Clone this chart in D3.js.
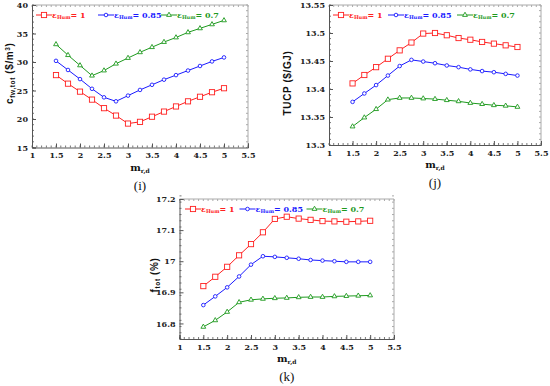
<!DOCTYPE html>
<html>
<head>
<meta charset="utf-8">
<script src="https://cdn.jsdelivr.net/npm/d3@7"></script>
<style>
  body { margin: 0; background: #fff; }
  svg { display: block; }
</style>
</head>
<body>
<svg id="chart" width="550" height="386"></svg>
<script>
// shared x values (m_r,d)
const mrd = [1.5, 1.75, 2, 2.25, 2.5, 2.75, 3, 3.25, 3.5, 3.75, 4, 4.25, 4.5, 4.75, 5];
const xTicks = [1, 1.5, 2, 2.5, 3, 3.5, 4, 4.5, 5, 5.5];
const seriesNames = ['1', '0.85', '0.7'];
const seriesColors = ['#ff2020', '#1a1aff', '#1e9a1e'];

// (i) c_fw,tot
const cfwHum1 = [27.7, 26.2, 24.8, 23.4, 21.9, 20.6, 19.2, 19.5, 20.4, 21.3, 22.2, 23.1, 23.9, 24.7, 25.4];
const cfwHum085 = [30.2, 28.6, 27.0, 25.3, 23.8, 23.1, 24.1, 25.1, 26.0, 26.9, 27.7, 28.5, 29.3, 30.1, 30.8];
const cfwHum07 = [33.1, 31.2, 29.4, 27.6, 28.5, 29.7, 30.7, 31.7, 32.6, 33.5, 34.3, 35.2, 35.9, 36.6, 37.3];
const cfwTicks = [15, 20, 25, 30, 35, 40];

// (j) TUCP
const tucpHum1 = [13.410, 13.425, 13.439, 13.454, 13.469, 13.483, 13.499, 13.500, 13.496, 13.491, 13.488, 13.484, 13.481, 13.478, 13.475];
const tucpHum085 = [13.377, 13.392, 13.407, 13.424, 13.441, 13.452, 13.449, 13.446, 13.442, 13.439, 13.435, 13.432, 13.430, 13.427, 13.424];
const tucpHum07 = [13.333, 13.349, 13.364, 13.381, 13.384, 13.384, 13.383, 13.382, 13.380, 13.378, 13.375, 13.373, 13.371, 13.370, 13.368];
const tucpTicks = [13.3, 13.35, 13.4, 13.45, 13.5, 13.55];

// (k) f_tot
const ftotHum1 = [16.920, 16.950, 16.982, 17.019, 17.055, 17.093, 17.136, 17.143, 17.137, 17.133, 17.129, 17.128, 17.127, 17.128, 17.130];
const ftotHum085 = [16.859, 16.887, 16.916, 16.951, 16.989, 17.016, 17.014, 17.011, 17.008, 17.004, 17.002, 17.000, 16.998, 16.998, 16.998];
const ftotHum07 = [16.789, 16.810, 16.837, 16.868, 16.876, 16.879, 16.881, 16.882, 16.884, 16.885, 16.885, 16.887, 16.888, 16.889, 16.890];
const ftotTicks = [16.8, 16.9, 17, 17.1, 17.2];

const svg = d3.select('#chart');
const serif = '"DejaVu Serif", serif';

function drawPanel(cfg) {
  const g = svg.append('g');
  const x = d3.scaleLinear().domain([1, 5.5]).range([cfg.left, cfg.right]);
  const y = d3.scaleLinear().domain(cfg.yDomain).range([cfg.bottom, cfg.top]);

  // frame: top/right lighter
  g.append('line').attr('x1', cfg.left).attr('x2', cfg.right).attr('y1', cfg.top).attr('y2', cfg.top)
    .attr('stroke', '#aaa').attr('stroke-width', 1);
  g.append('line').attr('x1', cfg.right).attr('x2', cfg.right).attr('y1', cfg.top).attr('y2', cfg.bottom)
    .attr('stroke', '#aaa').attr('stroke-width', 1);

  // minor ticks on all sides
  const xMinor = d3.range(1, 5.5001, 0.1);
  const yStep = (cfg.yTicks[1] - cfg.yTicks[0]) / 5;
  const yMinor = d3.range(cfg.yDomain[0], cfg.yDomain[1] + yStep / 2, yStep);
  g.selectAll('.xminor').data(xMinor).join('line')
    .attr('x1', d => x(d)).attr('x2', d => x(d))
    .attr('y1', cfg.bottom).attr('y2', cfg.bottom - 2).attr('stroke', '#777');
  g.selectAll('.xminort').data(xMinor).join('line')
    .attr('x1', d => x(d)).attr('x2', d => x(d))
    .attr('y1', cfg.top).attr('y2', cfg.top + 2).attr('stroke', '#aaa');
  g.selectAll('.yminor').data(yMinor).join('line')
    .attr('x1', cfg.left).attr('x2', cfg.left + 2)
    .attr('y1', d => y(d)).attr('y2', d => y(d)).attr('stroke', '#777');
  g.selectAll('.yminorr').data(yMinor).join('line')
    .attr('x1', cfg.right).attr('x2', cfg.right - 2)
    .attr('y1', d => y(d)).attr('y2', d => y(d)).attr('stroke', '#aaa');

  // axes
  const xAxis = g.append('g').attr('transform', `translate(0,${cfg.bottom})`)
    .call(d3.axisBottom(x).tickValues(xTicks).tickSize(-4).tickPadding(5).tickFormat(d3.format('')));
  const yAxis = g.append('g').attr('transform', `translate(${cfg.left},0)`)
    .call(d3.axisLeft(y).tickValues(cfg.yTicks).tickSize(-4).tickPadding(4).tickFormat(d3.format('')));
  [xAxis, yAxis].forEach(a => {
    a.select('.domain').attr('stroke', '#555');
    a.selectAll('.tick line').attr('stroke', '#555');
    a.selectAll('text').attr('font-family', serif).attr('font-weight', 'bold')
      .attr('font-size', 8).attr('fill', '#222');
  });

  // series
  const markers = [
    (sel) => sel.append('rect').attr('x', -2.6).attr('y', -2.6).attr('width', 5.2).attr('height', 5.2),
    (sel) => sel.append('circle').attr('r', 1.8),
    (sel) => sel.append('path').attr('d', d3.symbol(d3.symbolTriangle, 10)())
  ];
  cfg.series.forEach((vals, i) => {
    const data = mrd.map((m, k) => [m, vals[k]]);
    g.append('path').datum(data)
      .attr('fill', 'none').attr('stroke', seriesColors[i]).attr('stroke-width', 1)
      .attr('d', d3.line().x(d => x(d[0])).y(d => y(d[1])));
    const pts = g.selectAll('.pt' + i).data(data).join('g')
      .attr('transform', d => `translate(${x(d[0])},${y(d[1])})`);
    markers[i](pts).attr('fill', '#fff').attr('stroke', seriesColors[i]).attr('stroke-width', 0.9);
  });

  // legend
  const legY = cfg.top + 10;
  seriesNames.forEach((name, i) => {
    const lg = g.append('g').attr('transform', `translate(${cfg.left + cfg.legX[i]},${legY})`);
    lg.append('line').attr('x1', 0).attr('x2', 16).attr('stroke', seriesColors[i]).attr('stroke-width', 1);
    markers[i](lg.append('g').attr('transform', 'translate(8,0)'))
      .attr('fill', '#fff').attr('stroke', seriesColors[i]).attr('stroke-width', 0.9);
    const t = lg.append('text').attr('x', 16).attr('y', 3)
      .attr('font-family', serif).attr('font-weight', 'bold').attr('fill', seriesColors[i]);
    t.append('tspan').attr('font-size', 8).text('\u03b5');
    t.append('tspan').attr('font-size', 5).attr('dy', 1).text('Hum');
    t.append('tspan').attr('font-size', 8).attr('dy', -1).text('= ' + name);
  });

  // y label
  const cy = (cfg.top + cfg.bottom) / 2 + (cfg.yLabelDy || 0);
  const yl = g.append('text').attr('transform', `translate(${cfg.yLabelX},${cy}) rotate(-90)`)
    .attr('text-anchor', 'middle').attr('font-family', '"Liberation Sans", Arial, sans-serif')
    .attr('font-weight', 'bold').attr('font-size', 10).attr('letter-spacing', 0.6).attr('fill', '#111');
  cfg.yLabel(yl);

  // x label
  const cx = (cfg.left + cfg.right) / 2;
  const xl = g.append('text').attr('x', cx).attr('y', cfg.bottom + 23).attr('text-anchor', 'middle')
    .attr('font-family', serif).attr('font-weight', 'bold').attr('fill', '#111');
  xl.append('tspan').attr('font-size', 10).text('m');
  xl.append('tspan').attr('font-size', 6).attr('dy', 2).text('r,d');

  // caption
  g.append('text').attr('x', cx).attr('y', cfg.bottom + 42).attr('text-anchor', 'middle')
    .attr('font-family', '"Liberation Serif", serif').attr('font-size', 13).attr('fill', '#111')
    .text(cfg.caption);
}

drawPanel({
  left: 32, right: 248, top: 5, bottom: 147.5, yDomain: [15, 40], yTicks: cfwTicks,
  series: [cfwHum1, cfwHum085, cfwHum07], caption: '(i)', yLabelX: 13, yLabelDy: -3,
  legX: [4, 66, 129],
  yLabel: t => {
    t.append('tspan').text('c');
    t.append('tspan').attr('font-size', 6.5).attr('dy', 2).text('fw,tot');
    t.append('tspan').attr('dy', -2).text(' ($/m');
    t.append('tspan').attr('font-size', 6.5).attr('dy', -3).text('3');
    t.append('tspan').attr('dy', 3).text(')');
  }
});

drawPanel({
  left: 329, right: 541, top: 5, bottom: 145, yDomain: [13.3, 13.55], yTicks: tucpTicks,
  series: [tucpHum1, tucpHum085, tucpHum07], caption: '(j)', yLabelX: 291, yLabelDy: 8,
  legX: [4, 59, 128],
  yLabel: t => t.text('TUCP ($/GJ)')
});

drawPanel({
  left: 179.5, right: 394, top: 199, bottom: 339, yDomain: [16.75, 17.2], yTicks: ftotTicks,
  series: [ftotHum1, ftotHum085, ftotHum07], caption: '(k)', yLabelX: 158, yLabelDy: 6,
  legX: [5.5, 60, 127],
  yLabel: t => {
    t.append('tspan').text('f');
    t.append('tspan').attr('font-size', 6.5).attr('dy', 2).text('tot');
    t.append('tspan').attr('dy', -2).text(' (%)');
  }
});
</script>
</body>
</html>
